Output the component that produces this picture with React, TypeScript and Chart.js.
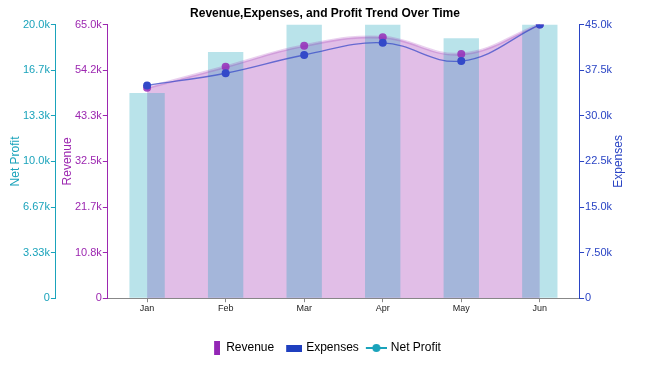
import React, { useEffect, useRef } from "react";
import { Chart, registerables } from "chart.js";

Chart.register(...registerables);

const months = ["Jan", "Feb", "Mar", "Apr", "May", "Jun"];
const revenue = [50000, 55000, 60000, 62000, 58000, 65000];
const expenses = [35000, 37000, 40000, 42000, 39000, 45000];
const netProfit = [15000, 18000, 20000, 20000, 19000, 20000];

const maxNet = 20000;
const maxRev = 65000;
const maxExp = 45000;

const titleText = "Revenue,Expenses, and Profit Trend Over Time";
const netTitle = "Net Profit";
const revTitle = "Revenue";
const expTitle = "Expenses";
const legendNames = ["Revenue", "Expenses", "Net Profit"];

const CYAN = "#1aa3bb";
const PURPLE = "#9c27b0";
const BLUE = "#2a44c4";
const FONT = "'Liberation Sans', Arial, sans-serif";

function fmt(v: number) {
  if (v === 0) return "0";
  return (v / 1000).toPrecision(3) + "k";
}

function sixTicks(max: number) {
  return (axis: any) => {
    axis.ticks = Array.from({ length: 7 }, (_, i) => ({ value: (max * i) / 6 }));
  };
}

function icon(kind: string) {
  const c = document.createElement("canvas");
  c.width = kind === "rev" ? 20 : 24;
  c.height = 14;
  const g = c.getContext("2d")!;
  if (kind === "rev") {
    g.fillStyle = "#9326b5";
    g.fillRect(14, 0, 6, 14);
  } else if (kind === "exp") {
    g.fillStyle = "#1f3fbf";
    g.fillRect(8, 4, 16, 7);
  } else {
    g.strokeStyle = CYAN;
    g.lineWidth = 2;
    g.beginPath();
    g.moveTo(3, 7);
    g.lineTo(24, 7);
    g.stroke();
    g.fillStyle = CYAN;
    g.beginPath();
    g.arc(13.5, 7, 4, 0, Math.PI * 2);
    g.fill();
  }
  return c;
}

const textPlugin = {
  id: "customText",
  afterLayout(chart: any) {
    const l = chart.legend;
    if (l) {
      l.left += 6;
      l.right += 6;
    }
  },
  afterDraw(chart: any) {
    const s = chart.scales.yExp;
    const ctx = chart.ctx;
    ctx.save();
    ctx.font = `12px ${FONT}`;
    ctx.fillStyle = BLUE;
    ctx.textAlign = "center";
    ctx.textBaseline = "middle";
    ctx.translate(s.right - 6, (s.top + s.bottom) / 2);
    ctx.rotate(-Math.PI / 2);
    ctx.fillText(expTitle, 0, 0);
    ctx.restore();

    const t = chart.titleBlock;
    ctx.save();
    ctx.font = `bold 12px ${FONT}`;
    ctx.fillStyle = "#000";
    ctx.textAlign = "center";
    ctx.textBaseline = "middle";
    ctx.fillText(titleText, chart.width / 2, t.top + 6 + 7.2);
    ctx.restore();
  },
};

function yAxis(color: string, max: number, title: string, position: string, weight: number, pad: any, hideTitle = false) {
  return {
    type: "linear",
    position,
    weight,
    min: 0,
    max,
    afterBuildTicks: sixTicks(max),
    border: { display: true, color, width: 1 },
    grid: { drawOnChartArea: false, drawTicks: true, tickLength: 5, tickColor: color },
    ticks: { color, font: { size: 11, family: FONT }, padding: 1, callback: (v: any) => fmt(Number(v)) },
    title: {
      display: true,
      text: title,
      color: hideTitle ? "rgba(0,0,0,0)" : color,
      font: { size: 12, family: FONT, lineHeight: 1 },
      padding: pad,
    },
  };
}

export default function App() {
  const ref = useRef<HTMLCanvasElement>(null);
  useEffect(() => {
    document.body.style.margin = "0";
    const icons = [icon("rev"), icon("exp"), icon("net")];
    const chart = new Chart(ref.current!, {
      type: "bar",
      data: {
        labels: months,
        datasets: [
          {
            type: "line",
            label: "Revenue",
            data: revenue,
            yAxisID: "yRev",
            fill: "origin",
            backgroundColor: "rgba(156,39,176,0.3)",
            borderColor: "rgba(156,39,176,0.22)",
            borderWidth: 3,
            tension: 0.4,
            pointRadius: 4,
            pointBackgroundColor: "rgba(150,45,185,0.85)",
            pointBorderWidth: 0,
            order: 1,
          } as any,
          {
            type: "line",
            label: "Expenses",
            data: expenses,
            yAxisID: "yExp",
            fill: false,
            borderColor: "rgba(50,70,200,0.7)",
            borderWidth: 1.3,
            tension: 0.4,
            pointRadius: 4,
            pointBackgroundColor: "#3349c9",
            pointBorderWidth: 0,
            order: 0,
          } as any,
          {
            type: "bar",
            label: "Net Profit",
            data: netProfit,
            yAxisID: "yNet",
            backgroundColor: "rgba(23,162,184,0.3)",
            borderWidth: 0,
            categoryPercentage: 0.9,
            barPercentage: 0.5,
            order: 2,
          } as any,
        ],
      },
      options: {
        responsive: false,
        animation: false,
        layout: { padding: { left: 4, right: 25, top: 0, bottom: 2 } },
        plugins: {
          filler: { drawTime: "beforeDatasetsDraw" },
          tooltip: { enabled: false },
          title: {
            display: true,
            text: titleText,
            color: "rgba(0,0,0,0)",
            font: { size: 13, weight: "bold", family: FONT },
            padding: { top: 6, bottom: 3 },
          },
          legend: {
            position: "bottom",
            labels: {
              usePointStyle: true,
              pointStyleWidth: 20,
              boxHeight: 12,
              padding: 6,
              color: "#222",
              font: { size: 12, family: FONT },
              generateLabels: () =>
                legendNames.map((t, i) => ({
                  text: t,
                  pointStyle: icons[i],
                  fillStyle: "transparent",
                  strokeStyle: "transparent",
                  lineWidth: 0,
                  hidden: false,
                  datasetIndex: i,
                })),
            },
          },
        },
        scales: {
          x: {
            offset: true,
            border: { display: true, color: "#888" },
            grid: { drawOnChartArea: false, drawTicks: true, tickLength: 4, tickColor: "#888", offset: false },
            ticks: { color: "#222", font: { size: 9, family: FONT }, padding: 1 },
            afterFit: (s: any) => {
              s.height += 21;
            },
          },
          yRev: yAxis(PURPLE, maxRev, revTitle, "left", 0, { top: 6, bottom: 0 }),
          yNet: yAxis(CYAN, maxNet, netTitle, "left", 1, { top: 6, bottom: 0 }),
          yExp: yAxis(BLUE, maxExp, expTitle, "right", 0, { top: 0, bottom: 0 }, true),
        } as any,
      },
      plugins: [textPlugin],
    });
    return () => chart.destroy();
  }, []);
  return (
    <div style={{ width: 650, height: 366 }}>
      <canvas ref={ref} width={650} height={366} />
    </div>
  );
}
